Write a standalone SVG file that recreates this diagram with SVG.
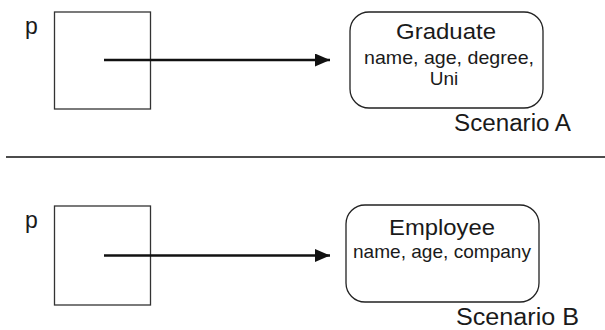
<svg xmlns="http://www.w3.org/2000/svg" width="605" height="330" viewBox="0 0 605 330">
<defs>
<style>
text{font-family:"Liberation Sans",Arial,Helvetica,sans-serif;fill:#1a1a1a}
.box{fill:#fff;stroke:#333;stroke-width:1.3}
.obj{fill:#fff;stroke:#222;stroke-width:1.3}
.ptr{stroke:#111;stroke-width:2.6;fill:none}
.title{font-size:22px;text-anchor:middle}
.attr{font-size:19px;text-anchor:middle}
.scen{font-size:23.5px}
.var{font-size:23px}
</style>
<marker id="ah" markerUnits="userSpaceOnUse" markerWidth="16" markerHeight="13" refX="15" refY="6.5" orient="auto">
<path d="M0,0 L15,6.5 L0,13 Z" fill="#111"/>
</marker>
</defs>
<rect width="605" height="330" fill="#fff"/>

<g id="varA">
<text class="var" x="25" y="34">p</text>
<rect class="box" x="54.5" y="12" width="96" height="97"/>
</g>
<g id="objA">
<rect class="obj" x="350" y="12" width="193" height="96" rx="19" ry="19"/>
<text class="title" x="446" y="38.5" textLength="100" lengthAdjust="spacingAndGlyphs">Graduate</text>
<text class="attr" x="449" y="64" textLength="170" lengthAdjust="spacingAndGlyphs">name, age, degree,</text>
<text class="attr" x="444" y="85">Uni</text>
</g>
<g id="labelA">
<text class="scen" x="454" y="130.5" textLength="117" lengthAdjust="spacingAndGlyphs">Scenario A</text>
</g>

<g id="separator">
<line x1="6" y1="157" x2="605" y2="157" stroke="#111" stroke-width="1.6"/>
</g>

<g id="varB">
<text class="var" x="25" y="228">p</text>
<rect class="box" x="54.5" y="206" width="96" height="99"/>
</g>
<g id="objB">
<rect class="obj" x="346" y="205" width="193" height="97" rx="19" ry="19"/>
<text class="title" x="442" y="234.5" textLength="106" lengthAdjust="spacingAndGlyphs">Employee</text>
<text class="attr" x="442" y="258" textLength="178" lengthAdjust="spacingAndGlyphs">name, age, company</text>
</g>
<g id="labelB">
<text class="scen" x="456" y="325" textLength="123" lengthAdjust="spacingAndGlyphs">Scenario B</text>
</g>

<g id="connectors">
<line class="ptr" x1="104" y1="60" x2="330" y2="60" marker-end="url(#ah)"/>
<line class="ptr" x1="104" y1="255.5" x2="330" y2="255.5" marker-end="url(#ah)"/>
</g>
</svg>
